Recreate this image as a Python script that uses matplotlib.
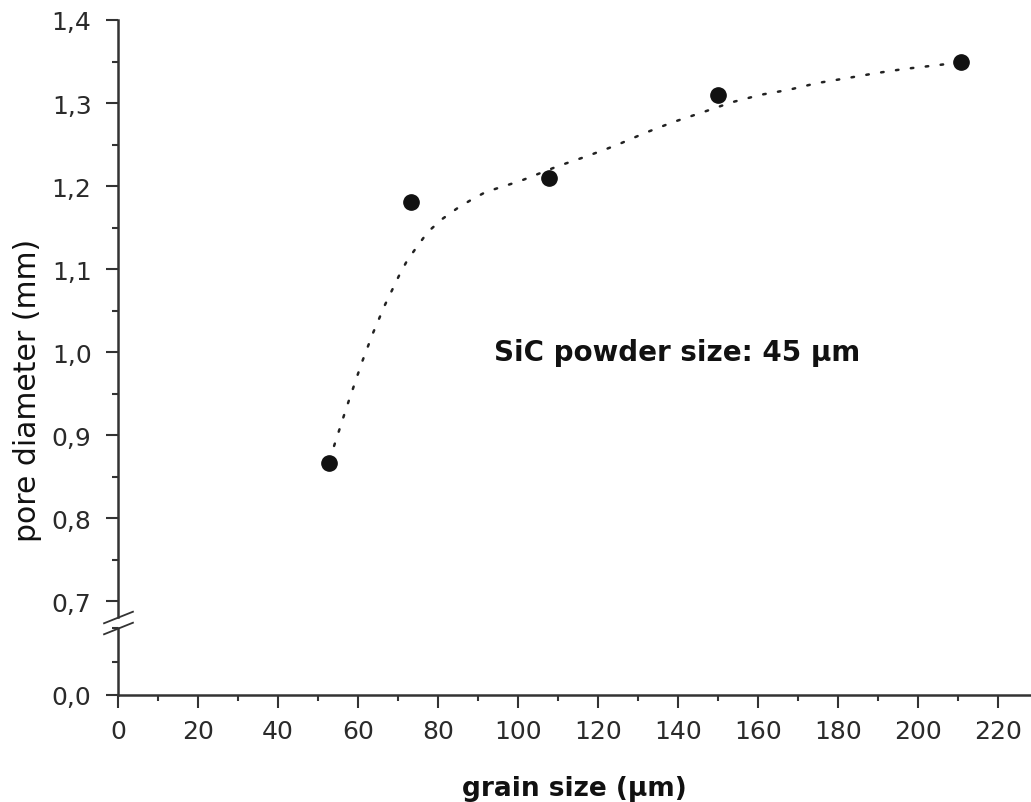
import numpy as np
import matplotlib
matplotlib.use('Agg')
import matplotlib.pyplot as plt
from matplotlib.ticker import MultipleLocator, FuncFormatter

plt.rcParams['font.family'] = ['DejaVu Sans']

# measured points
grain = [52.75, 73.25, 107.75, 150.0, 210.75]
pore = [0.866, 1.181, 1.210, 1.310, 1.349]

# dotted fit curve
fit_x = [52.75, 53.75, 57.25, 61.0, 63.75, 66.75, 70.25, 72.25, 74.75, 77.5,
         81.25, 84.75, 88.5, 92.0, 100.5, 110.0, 117.25, 124.5, 131.75,
         138.75, 146.25, 153.5, 160.75, 167.75, 174.75, 182.25, 189.5,
         196.5, 203.75, 210.75]
fit_y = [0.870, 0.883, 0.935, 0.988, 1.023, 1.057, 1.092, 1.110, 1.127, 1.145,
         1.161, 1.173, 1.184, 1.193, 1.206, 1.224, 1.236, 1.249, 1.264,
         1.277, 1.289, 1.301, 1.310, 1.316, 1.324, 1.330, 1.336,
         1.341, 1.345, 1.349]

W, H = 1031, 803
fig = plt.figure(figsize=(W / 100, H / 100), dpi=100)

def px(x0, y0, x1, y1):
    return [x0 / W, 1 - y1 / H, (x1 - x0) / W, (y1 - y0) / H]

ax = fig.add_axes(px(118, 21, 1031, 618))
axb = fig.add_axes(px(118, 629, 1031, 696))

spine_col = '#333333'
txt_col = '#2a2a2a'
comma = FuncFormatter(lambda v, p: f'{v:.1f}'.replace('.', ','))

for a in (ax, axb):
    for s in ('top', 'right'):
        a.spines[s].set_visible(False)
    for s in ('left', 'bottom'):
        a.spines[s].set_linewidth(1.8)
        a.spines[s].set_color(spine_col)
    a.set_xlim(0, 228.25)
    a.tick_params(which='major', direction='out', length=9, width=1.5,
                  color=spine_col, labelsize=18, labelcolor=txt_col, pad=8)
    a.tick_params(axis='y', which='major', pad=10)
    a.tick_params(which='minor', direction='out', length=4, width=1.5,
                  color=spine_col)
    a.yaxis.set_major_formatter(comma)
    a.set_facecolor('none')

ax.spines['bottom'].set_visible(False)
ax.tick_params(axis='x', which='both', bottom=False, labelbottom=False)
ax.set_ylim(0.681, 1.4)
ax.yaxis.set_major_locator(MultipleLocator(0.1))
ax.yaxis.set_minor_locator(MultipleLocator(0.05))

axb.set_ylim(0, 0.1)
axb.yaxis.set_major_locator(MultipleLocator(0.1))
axb.yaxis.set_minor_locator(MultipleLocator(0.05))
axb.set_yticks([0.0])
axb.xaxis.set_major_locator(MultipleLocator(20))
axb.xaxis.set_minor_locator(MultipleLocator(10))

ax.plot(fit_x, fit_y, color='#222222', linewidth=1.8, linestyle=(0, (1, 5)),
        dash_capstyle='round')
ax.plot(grain, pore, 'o', color='#111111', markersize=11, zorder=3)

ax.text(94, 1.0, 'SiC powder size: 45 μm', fontsize=20, fontweight='bold',
        color='#111111', ha='left', va='center')

# break marks on the y axis
brk = dict(marker=[(-1, -0.4), (1, 0.4)], markersize=22, linestyle='none',
           color=spine_col, mec=spine_col, mew=1.3, clip_on=False)
ax.plot([0], [0], transform=ax.transAxes, **brk)
axb.plot([0], [1], transform=axb.transAxes, **brk)

fig.text(574.5 / W, 1 - 789 / H, 'grain size (μm)', fontsize=19,
         fontweight='bold', color='#111111', ha='center', va='center')
fig.text(28 / W, 1 - 390 / H, 'pore diameter (mm)', fontsize=21.5,
         color='#111111', ha='center', va='center', rotation=90)

fig.savefig('out.png', dpi=100)
